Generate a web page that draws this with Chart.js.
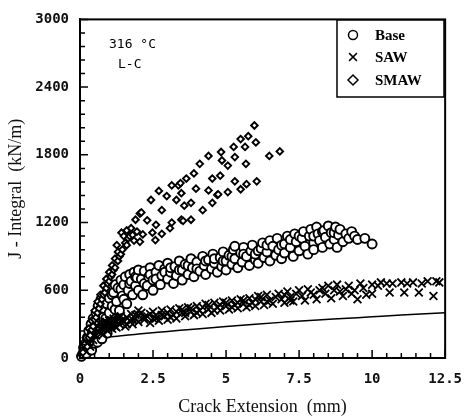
<!DOCTYPE html>
<html>
<head>
<meta charset="utf-8">
<title>J-R curves 316 C L-C</title>
<script src="https://cdn.jsdelivr.net/npm/chart.js@4.4.1/dist/chart.umd.min.js"></script>
<style>
  html, body { margin: 0; padding: 0; background: #fff; }
  #wrap { width: 475px; height: 419px; }
</style>
</head>
<body>
<div id="wrap"><canvas id="chart" width="475" height="419"></canvas></div>
<script>
// --- data: [crack extension mm, J kN/m] ---
var seriesNames = ['Base', 'SAW', 'SMAW'];
var xTickLabels = ['0', '2.5', '5', '7.5', '10', '12.5'];
var yTickLabels = ['0', '600', '1200', '1800', '2400', '3000'];

var basePts = [
  [0.05,15],[0.1,40],[0.12,90],[0.15,60],[0.2,130],[0.22,40],[0.25,180],[0.25,100],[0.3,110],[0.3,240],
  [0.35,160],[0.38,300],[0.4,70],[0.42,220],[0.45,350],[0.45,250],[0.5,130],[0.5,280],[0.55,400],[0.55,330],
  [0.58,200],[0.6,330],[0.62,460],[0.6,140],[0.65,260],[0.7,380],[0.7,430],[0.72,520],[0.75,170],[0.78,300],
  [0.8,440],[0.8,360],[0.85,560],[0.88,350],[0.9,300],[0.93,220],[0.92,480],[0.95,600],[1.0,400],[1.0,530],
  [1.05,640],[1.1,460],[1.1,560],[1.12,320],[1.15,580],[1.2,650],[1.2,430],[1.25,500],[1.3,620],[1.35,420],
  [1.4,690],[1.4,610],[1.45,550],[1.5,650],[1.5,520],[1.55,720],[1.6,480],[1.65,600],[1.7,740],[1.7,660],
  [1.75,680],[1.8,560],[1.85,760],[1.9,640],[1.9,720],[1.95,710],[2.0,600],[2.0,780],[2.1,700],[2.15,560],
  [2.2,770],[2.2,660],[2.3,640],[2.35,720],[2.4,800],[2.4,740],[2.5,600],[2.5,690],[2.6,760],[2.6,700],
  [2.7,820],[2.75,650],[2.8,730],[2.9,790],[2.9,760],[3.0,700],[3.0,840],[3.1,760],[3.1,800],[3.2,660],
  [3.25,810],[3.3,730],[3.4,860],[3.4,780],[3.5,780],[3.5,690],[3.6,830],[3.7,740],[3.7,820],[3.8,880],
  [3.85,800],[3.9,720],[4.0,850],[4.0,790],[4.1,770],[4.2,900],[4.25,820],[4.3,740],[4.3,860],[4.4,870],
  [4.5,790],[4.55,920],[4.6,840],[4.6,880],[4.7,760],[4.8,890],[4.85,810],[4.9,940],[4.9,860],[5.0,860],
  [5.0,780],[5.1,910],[5.2,830],[5.2,900],[5.25,960],[5.3,880],[5.3,990],[5.4,800],[5.5,930],[5.55,850],
  [5.6,980],[5.6,920],[5.7,900],[5.8,820],[5.85,950],[5.9,1000],[6.0,870],[6.0,920],[6.1,840],[6.1,950],
  [6.2,970],[6.25,1020],[6.3,890],[6.4,940],[6.4,1000],[6.5,860],[6.5,1040],[6.6,990],[6.7,910],[6.75,1060],
  [6.8,960],[6.9,880],[6.9,1000],[7.0,1010],[7.0,930],[7.1,1080],[7.2,980],[7.2,1050],[7.3,900],[7.35,1100],
  [7.4,1030],[7.5,950],[7.5,1080],[7.6,1060],[7.65,1120],[7.7,990],[7.8,920],[7.85,1080],[7.9,1140],[8.0,1020],
  [8.0,960],[8.0,1080],[8.1,1160],[8.15,1100],[8.2,1040],[8.3,980],[8.3,1120],[8.35,1130],[8.4,1070],[8.5,1170],
  [8.55,1010],[8.6,1110],[8.7,1050],[8.7,1110],[8.75,1160],[8.8,980],[8.85,1090],[8.9,1140],[9.0,1030],[9.1,1100],
  [9.2,1060],[9.3,1120],[9.4,1080],[9.5,1050],[9.75,1060],[10.0,1010]
];

var sawPts = [
  [0.2,60],[0.25,120],[0.3,180],[0.3,140],[0.35,100],[0.4,220],[0.45,160],[0.5,250],[0.5,210],[0.55,200],
  [0.6,280],[0.6,240],[0.65,230],[0.7,300],[0.75,260],[0.8,210],[0.8,270],[0.85,320],[0.9,280],[0.9,320],
  [0.95,240],[1.0,330],[1.0,300],[1.05,290],[1.1,260],[1.15,350],[1.2,310],[1.2,280],[1.25,270],[1.3,340],
  [1.3,360],[1.35,300],[1.4,370],[1.45,340],[1.5,320],[1.55,280],[1.6,360],[1.6,300],[1.7,330],[1.75,390],
  [1.8,300],[1.8,340],[1.9,350],[1.9,380],[2.0,380],[2.0,420],[2.0,320],[2.1,400],[2.2,340],[2.2,360],
  [2.3,370],[2.4,310],[2.4,390],[2.5,410],[2.5,350],[2.6,380],[2.6,350],[2.7,330],[2.8,420],[2.8,380],
  [2.9,370],[3.0,400],[3.0,340],[3.1,430],[3.1,360],[3.2,380],[3.3,350],[3.3,410],[3.4,440],[3.5,400],
  [3.5,430],[3.6,370],[3.6,400],[3.7,450],[3.8,410],[3.8,440],[3.9,380],[4.0,460],[4.0,400],[4.1,420],
  [4.2,390],[4.2,450],[4.3,480],[4.4,430],[4.4,470],[4.5,400],[4.6,490],[4.6,420],[4.7,450],[4.8,420],
  [4.8,470],[4.9,500],[5.0,460],[5.0,490],[5.1,430],[5.2,510],[5.2,450],[5.3,470],[5.4,440],[5.4,490],
  [5.5,520],[5.6,480],[5.6,510],[5.7,450],[5.8,530],[5.8,470],[5.9,490],[6.0,460],[6.0,520],[6.1,550],
  [6.2,500],[6.2,540],[6.3,470],[6.4,560],[6.4,500],[6.5,510],[6.6,480],[6.7,540],[6.8,570],[6.9,520],
  [7.0,490],[7.0,560],[7.1,590],[7.2,540],[7.2,510],[7.3,500],[7.4,570],[7.5,600],[7.6,550],[7.7,510],
  [7.8,610],[7.9,580],[8.0,560],[8.1,520],[8.2,600],[8.3,620],[8.4,570],[8.5,640],[8.6,530],[8.7,600],
  [8.8,650],[8.9,590],[9.0,550],[9.1,610],[9.2,640],[9.3,570],[9.4,600],[9.5,520],[9.6,660],[9.7,620],
  [9.8,560],[10.0,570],[10.0,650],[10.2,640],[10.3,670],[10.5,660],[10.6,580],[10.7,660],[11.0,670],[11.1,580],
  [11.2,660],[11.4,670],[11.6,580],[11.7,660],[11.9,680],[12.1,550],[12.2,680],[12.3,670]
];

var smawPts = [
  [0.1,50],[0.15,120],[0.2,180],[0.25,100],[0.3,260],[0.3,180],[0.35,200],[0.4,330],[0.4,250],[0.45,280],
  [0.5,420],[0.5,340],[0.55,360],[0.6,500],[0.6,400],[0.65,440],[0.7,560],[0.7,480],[0.75,520],[0.8,640],
  [0.8,560],[0.85,580],[0.9,700],[0.9,620],[0.95,660],[1.0,760],[1.0,680],[1.05,720],[1.1,820],[1.1,740],
  [1.15,780],[1.2,880],[1.2,800],[1.26,1000],[1.3,940],[1.3,860],[1.35,900],[1.4,920],[1.42,1110],[1.45,960],
  [1.5,1080],[1.55,1020],[1.6,1000],[1.6,1130],[1.65,1060],[1.7,1080],[1.75,1150],[1.8,1090],[1.85,1040],[1.9,1225],
  [1.95,1120],[2.05,1280],[2.05,1030],[2.1,1290],[2.15,1095],[2.3,1220],[2.43,1400],[2.48,1110],[2.58,1045],[2.6,1180],
  [2.7,1480],[2.8,1310],[2.8,1100],[2.97,1435],[3.08,1150],[3.14,1530],[3.14,1200],[3.3,1400],[3.37,1530],[3.44,1550],
  [3.47,1460],[3.47,1225],[3.53,1215],[3.57,1350],[3.64,1590],[3.8,1375],[3.8,1225],[3.9,1635],[3.97,1500],[4.1,1720],
  [4.2,1310],[4.4,1790],[4.4,1485],[4.53,1590],[4.53,1375],[4.7,1445],[4.73,1450],[4.8,1615],[4.83,1825],[4.86,1750],
  [5.06,1705],[5.06,1470],[5.26,1870],[5.3,1780],[5.3,1565],[5.5,1940],[5.5,1495],[5.65,1870],[5.68,1720],[5.7,1540],
  [5.76,1965],[6.02,1910],[5.97,2060],[6.05,1565],[6.48,1790],[6.84,1830]
];

// solid reference curve
var curveExt = [0.5, 0.7, 1, 1.5, 2, 3, 4, 5, 6, 7, 8, 9, 10, 11, 12.5];
var curveJ   = [150, 170, 185, 200, 212, 235, 258, 280, 300, 318, 335, 350, 365, 380, 400];

function toXY(pts) { return pts.map(function (p) { return { x: p[0], y: p[1] }; }); }

var serif = '"Liberation Serif", "Times New Roman", serif';
var mono = '"DejaVu Sans Mono", monospace';

function isMult(v, step) { return Math.abs(v / step - Math.round(v / step)) < 1e-6; }

// frame, inward ticks, legend box and the condition note
var framePlugin = {
  id: 'frame',
  afterDraw: function (chart) {
    var ctx = chart.ctx, a = chart.chartArea;
    var xs = chart.scales.x, ys = chart.scales.y;
    ctx.save();
    ctx.strokeStyle = '#000';
    ctx.lineWidth = 2;
    ctx.strokeRect(a.left, a.top, a.right - a.left, a.bottom - a.top);

    ctx.lineWidth = 1.5;
    ctx.beginPath();
    xs.ticks.forEach(function (t) {
      var px = xs.getPixelForValue(t.value);
      var len = isMult(t.value, 2.5) ? 8 : 5;
      ctx.moveTo(px, a.bottom);
      ctx.lineTo(px, a.bottom - len);
    });
    ys.ticks.forEach(function (t) {
      var py = ys.getPixelForValue(t.value);
      var len = isMult(t.value, 600) ? 8 : 5;
      ctx.moveTo(a.left, py);
      ctx.lineTo(a.left + len, py);
    });
    ctx.stroke();

    // legend
    ctx.lineWidth = 1.5;
    ctx.fillStyle = '#fff';
    ctx.fillRect(337, 20, 107, 77);
    ctx.strokeRect(337, 20, 107, 77);
    ctx.font = 'bold 15px ' + serif;
    ctx.textBaseline = 'middle';
    ctx.textAlign = 'left';
    var rows = [35, 57, 80];
    chart.data.datasets.forEach(function (ds, i) {
      if (i > 2) return;
      ctx.fillStyle = '#fff';
      ctx.strokeStyle = '#000';
      Chart.helpers.drawPoint(ctx, {
        pointStyle: ds.pointStyle, radius: ds.legendRadius, rotation: 0,
        borderWidth: 1.6
      }, 353, rows[i]);
      ctx.fillStyle = '#000';
      ctx.fillText(ds.label, 375, rows[i] + 1);
    });

    // test condition note
    ctx.fillStyle = '#000';
    ctx.font = '13px ' + mono;
    ctx.fillText('316 \u00B0C', 109, 45);
    ctx.fillText('L-C', 118, 65);
    ctx.restore();
  }
};

new Chart(document.getElementById('chart').getContext('2d'), {
  type: 'scatter',
  data: {
    datasets: [
      {
        label: seriesNames[0], data: toXY(basePts), pointStyle: 'circle',
        pointRadius: 4.5, borderWidth: 1.9, borderColor: '#000', backgroundColor: '#fff',
        legendRadius: 4.5, order: 3, clip: 6
      },
      {
        label: seriesNames[1], data: toXY(sawPts), pointStyle: 'crossRot',
        pointRadius: 5.5, borderWidth: 1.8, borderColor: '#000', backgroundColor: '#fff',
        legendRadius: 5.5, order: 2, clip: 6
      },
      {
        label: seriesNames[2], data: toXY(smawPts), pointStyle: 'rectRot',
        pointRadius: 3.3, borderWidth: 1.9, borderColor: '#000', backgroundColor: '#fff',
        legendRadius: 5, order: 1, clip: 6
      },
      {
        label: 'curve', type: 'line', showLine: true,
        data: curveExt.map(function (x, i) { return { x: x, y: curveJ[i] }; }),
        borderColor: '#000', borderWidth: 1.5, pointRadius: 0,
        cubicInterpolationMode: 'monotone', order: 4
      }
    ]
  },
  options: {
    responsive: false,
    animation: false,
    layout: { padding: { top: 13, right: 17, left: 0, bottom: 0 } },
    plugins: { legend: { display: false }, tooltip: { enabled: false } },
    scales: {
      x: {
        type: 'linear', min: 0, max: 12.5,
        afterFit: function (s) { s.height = 61; },
        border: { display: true, color: '#000', width: 2 },
        grid: { display: false, drawTicks: false },
        ticks: {
          stepSize: 0.5, autoSkip: false, maxRotation: 0, padding: 13,
          color: '#111', font: { family: mono, size: 14, weight: 'bold' },
          callback: function (v) { return isMult(v, 2.5) ? xTickLabels[Math.round(v / 2.5)] : ''; }
        },
        title: {
          display: true, text: 'Crack Extension  (mm)', color: '#111',
          font: { family: serif, size: 18 }, padding: { top: 0, bottom: 1 }
        }
      },
      y: {
        type: 'linear', min: 0, max: 3000,
        afterFit: function (s) { s.width = 80; },
        border: { display: true, color: '#000', width: 2 },
        grid: { display: false, drawTicks: false },
        ticks: {
          stepSize: 120, autoSkip: false, padding: 11,
          color: '#111', font: { family: mono, size: 14, weight: 'bold' },
          callback: function (v) { return isMult(v, 600) ? yTickLabels[Math.round(v / 600)] : ''; }
        },
        title: {
          display: true, text: 'J - Integral  (kN/m)', color: '#111',
          font: { family: serif, size: 18 }, padding: { top: 5, bottom: 0 }
        }
      }
    }
  },
  plugins: [framePlugin]
});
</script>
</body>
</html>
